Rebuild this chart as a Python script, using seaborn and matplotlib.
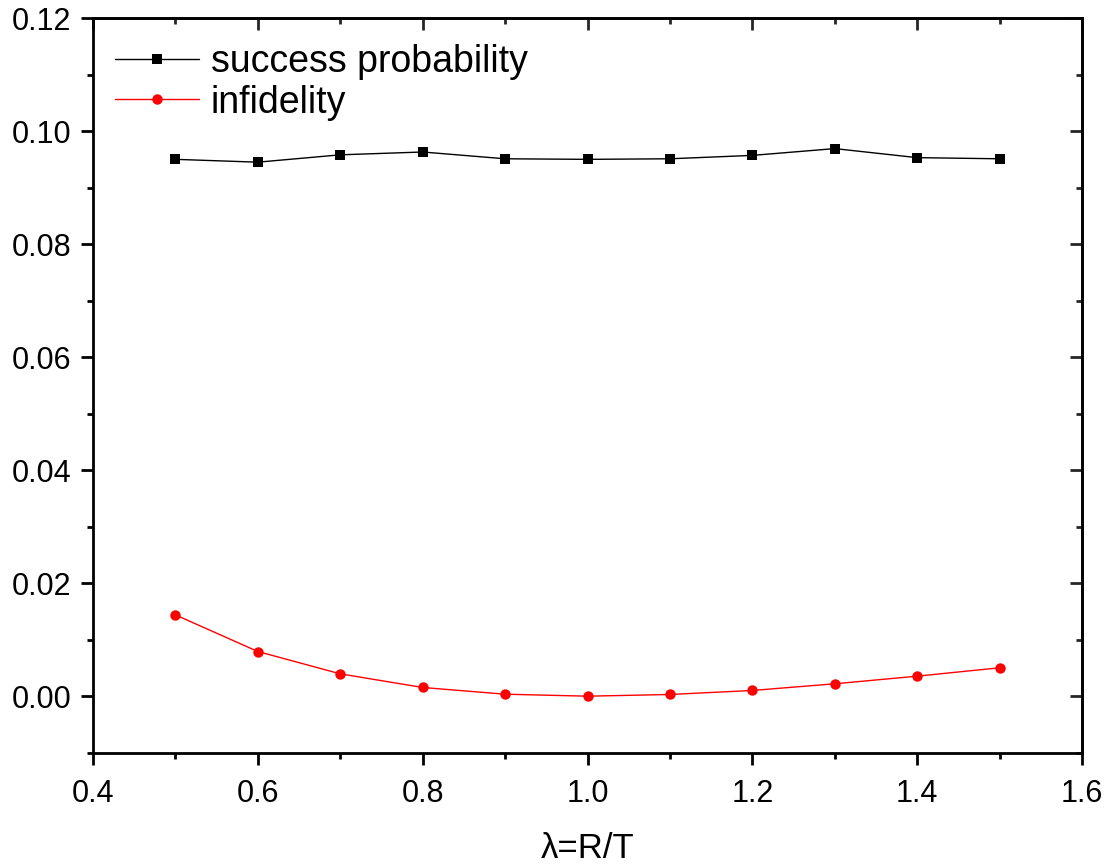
import matplotlib
matplotlib.use("Agg")
import matplotlib.pyplot as plt
import seaborn as sns
import pandas as pd
from matplotlib.ticker import MultipleLocator, FormatStrFormatter

lam = [0.5, 0.6, 0.7, 0.8, 0.9, 1.0, 1.1, 1.2, 1.3, 1.4, 1.5]
success_probability = [0.0950, 0.0945, 0.0958, 0.0963, 0.0951, 0.0950, 0.0951, 0.0957, 0.0969, 0.0953, 0.0951]
infidelity = [0.01443, 0.00795, 0.00400, 0.00159, 0.00040, 0.00005, 0.00035, 0.00106, 0.00224, 0.00359, 0.00507]

sns.set_theme(style="ticks")
plt.rcParams['font.family'] = ['Liberation Sans', 'DejaVu Sans']
plt.rcParams['text.color'] = 'black'
plt.rcParams['axes.labelcolor'] = 'black'

fig = plt.figure(figsize=(11.11, 8.65), dpi=100)
ax = fig.add_axes([93/1111, 1-753/865, (1082-93)/1111, (753-18)/865])

df1 = pd.DataFrame({"x": lam, "y": success_probability})
df2 = pd.DataFrame({"x": lam, "y": infidelity})
sns.lineplot(data=df1, x="x", y="y", ax=ax, color="black", marker="s", markersize=6.5,
             markeredgewidth=0, linewidth=1.0, label="success probability")
sns.lineplot(data=df2, x="x", y="y", ax=ax, color="red", marker="o", markersize=7.5,
             markeredgewidth=0, linewidth=1.0, label="infidelity")

ax.set_xlim(0.4, 1.6)
ax.set_ylim(-0.01, 0.12)
ax.xaxis.set_major_locator(MultipleLocator(0.2))
ax.xaxis.set_minor_locator(MultipleLocator(0.1))
ax.yaxis.set_major_locator(MultipleLocator(0.02))
ax.yaxis.set_minor_locator(MultipleLocator(0.01))
ax.yaxis.set_major_formatter(FormatStrFormatter("%.2f"))
ax.xaxis.set_major_formatter(FormatStrFormatter("%.1f"))

for s in ax.spines.values():
    s.set_linewidth(2)
    s.set_color("black")
ax.tick_params(which="major", length=8.6, width=2, labelsize=22, colors="black")
ax.tick_params(axis="y", which="major", pad=7)
ax.tick_params(axis="x", which="major", pad=10)
ax.tick_params(which="minor", length=4.3, width=2, colors="black")
# top/right inward ticks
secx = ax.secondary_xaxis("top")
secx.xaxis.set_major_locator(MultipleLocator(0.2))
secx.xaxis.set_minor_locator(MultipleLocator(0.1))
secx.tick_params(which="major", direction="in", length=8.6, width=2, labeltop=False)
secx.tick_params(which="minor", direction="in", length=4.3, width=2)
secx.spines["top"].set_linewidth(2)
secy = ax.secondary_yaxis("right")
secy.yaxis.set_major_locator(MultipleLocator(0.02))
secy.yaxis.set_minor_locator(MultipleLocator(0.01))
secy.tick_params(which="major", direction="in", length=8.6, width=2, labelright=False)
secy.tick_params(which="minor", direction="in", length=4.3, width=2)
secy.spines["right"].set_linewidth(2)

ax.set_xlabel("λ=R/T", fontsize=25, labelpad=17, color="black")
ax.set_ylabel("")
leg = ax.legend(loc="upper left", frameon=False, fontsize=27, handlelength=2.25,
                handletextpad=0.3, labelspacing=0.12, borderaxespad=0.0,
                bbox_to_anchor=(0.007, 0.985), labelcolor="black")

fig.savefig("out.png", dpi=100)
